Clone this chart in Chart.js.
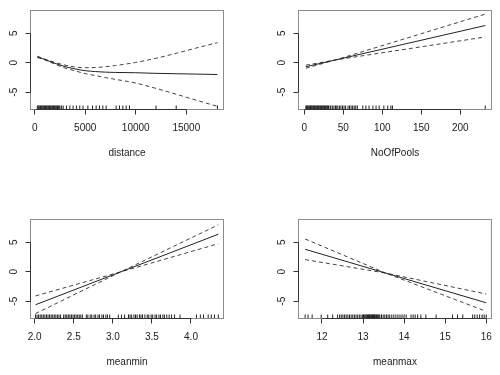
<!DOCTYPE html>
<html>
<head>
<meta charset="utf-8">
<script src="https://cdn.jsdelivr.net/npm/chart.js@4/dist/chart.umd.min.js"></script>
<style>
  body { margin: 0; background: #fff; }
  #wrap { position: relative; width: 500px; height: 375px; }
  #wrap canvas { position: absolute; }
</style>
</head>
<body>
<div id="wrap">
  <canvas id="cDistance" width="250" height="188" style="left:0;top:0"></canvas>
  <canvas id="cPools" width="250" height="188" style="left:250px;top:0"></canvas>
  <canvas id="cMeanmin" width="250" height="188" style="left:0;top:187px"></canvas>
  <canvas id="cMeanmax" width="250" height="188" style="left:250px;top:187px"></canvas>
</div>
<script>
// shared y range of the smooth terms
var yMin = -7.93;
var yMax = 8.85;
var yTicks = [-5, 0, 5];

// s(distance)
var distTicks = [0, 5000, 10000, 15000];
var distX = [260, 1000, 2000, 3000, 4000, 5000, 6000, 7000, 8000, 10000, 12000, 14000, 16000, 18080];
var distFit = [1.0, 0.55, -0.1, -0.65, -1.05, -1.35, -1.5, -1.6, -1.65, -1.7, -1.8, -1.87, -1.93, -2.0];
var distUpper = [1.1, 0.62, 0.05, -0.4, -0.72, -0.85, -0.82, -0.68, -0.48, 0.05, 0.75, 1.6, 2.5, 3.4];
var distLower = [0.9, 0.48, -0.25, -0.9, -1.38, -1.85, -2.18, -2.52, -2.82, -3.45, -4.35, -5.34, -6.36, -7.4];
var distRug = [260, 340, 420, 500, 580, 660, 740, 820, 900, 980, 1060, 1140, 1220, 1300, 1380, 1460, 1540, 1620,
  1700, 1780, 1860, 1940, 2020, 2100, 2180, 2260, 2340, 2420, 2500, 2660, 2820,
  3150, 3480, 3800, 4130, 4460, 4780, 5260, 5720, 6080, 6410, 6740, 7070, 8060, 8390, 8720, 9050, 9380,
  12000, 14000, 18080];

// s(NoOfPools)
var poolTicks = [0, 50, 100, 150, 200];
var poolX = [2, 40, 232];
var poolFit = [-0.68, 0.47, 6.3];
var poolUpper = [-0.42, 0.47, 8.24];
var poolLower = [-0.94, 0.47, 4.36];
var poolRug = [2, 3, 4, 5, 6, 7, 8, 9, 10, 11, 12, 13, 14, 15, 16, 17, 18, 19, 20, 21, 22, 23, 24, 25, 26, 27, 28,
  29, 30, 31, 33, 34, 36, 38, 40, 41, 43, 45, 47, 49, 51, 53, 56, 58, 60, 62, 64, 66, 68, 75, 79, 83, 88, 92, 96,
  102, 107, 111, 113, 232];

// s(meanmin)
var minTicks = [2.0, 2.5, 3.0, 3.5, 4.0];
var minX = [2.01, 3.1, 4.35];
var minFit = [-5.6, -0.03, 6.35];
var minUpper = [-4.1, -0.03, 7.95];
var minLower = [-7.1, -0.03, 4.75];
var minRug = [2.01, 2.03, 2.05, 2.07, 2.09, 2.11, 2.13, 2.15, 2.17, 2.19, 2.21, 2.23, 2.25, 2.27, 2.29, 2.31, 2.33,
  2.37, 2.39, 2.41, 2.43, 2.45, 2.47, 2.49, 2.51, 2.53, 2.55, 2.57, 2.59, 2.61,
  2.66, 2.68, 2.71, 2.73, 2.76, 2.78, 2.81, 2.83, 2.86, 2.88, 2.91, 2.93, 2.96,
  3.07, 3.11, 3.15, 3.20, 3.22, 3.24, 3.27, 3.29, 3.31, 3.34, 3.36, 3.38, 3.41,
  3.44, 3.46, 3.49, 3.51, 3.54, 3.56, 3.59, 3.61, 3.64, 3.66, 3.69, 3.72, 3.75, 3.79,
  3.86, 4.07, 4.12, 4.16, 4.22, 4.26, 4.30, 4.35];

// s(meanmax)
var maxTicks = [12, 13, 14, 15, 16];
var maxX = [11.59, 13.55, 16.0];
var maxFit = [3.8, -0.23, -5.27];
var maxUpper = [5.55, -0.23, -3.78];
var maxLower = [2.05, -0.23, -6.72];
var maxRug = [11.59, 11.66, 11.76, 11.98, 12.14, 12.26, 12.38, 12.43, 12.47, 12.51, 12.55, 12.59, 12.63, 12.67,
  12.71, 12.75, 12.79, 12.83, 12.87, 12.91, 12.95, 12.99, 13.01, 13.03, 13.05, 13.07, 13.09, 13.11, 13.13, 13.14,
  13.16, 13.17, 13.19, 13.2, 13.22, 13.23, 13.25, 13.26, 13.28, 13.29, 13.31, 13.33, 13.35, 13.37, 13.39, 13.41,
  13.45, 13.49, 13.53, 13.57, 13.61, 13.65, 13.7, 13.75, 13.8, 13.85, 13.9, 13.95,
  14.0, 14.05, 14.17, 14.22, 14.27, 14.33, 14.41, 14.53, 14.78, 15.18, 15.3, 15.43, 15.67, 15.72, 15.78, 15.84,
  15.9, 15.95, 16.0];

var fontFamily = '"Liberation Sans", Arial, Helvetica, sans-serif';
var ink = '#222';

function pts(xs, ys) {
  return xs.map(function (x, i) { return {x: x, y: ys[i]}; });
}

function fixedTicks(values) {
  return function (scale) {
    scale.ticks = values.map(function (v) { return {value: v}; });
  };
}

// box round the plot region, R-style axis lines and rotated y labels
var gamBox = {
  id: 'gamBox',
  afterDraw: function (chart) {
    var ctx = chart.ctx;
    var a = chart.chartArea;
    var xs = chart.scales.x;
    var ys = chart.scales.y;
    ctx.save();
    ctx.lineWidth = 1;
    ctx.strokeStyle = '#8c8c8c';
    ctx.strokeRect(a.left, a.top, a.right - a.left, a.bottom - a.top);

    ctx.strokeStyle = '#333';
    ctx.beginPath();
    ctx.moveTo(Math.round(xs.getPixelForValue(xs.ticks[0].value)) + 0.5, a.bottom);
    ctx.lineTo(Math.round(xs.getPixelForValue(xs.ticks[xs.ticks.length - 1].value)) + 0.5, a.bottom);
    ctx.moveTo(a.left, Math.round(ys.getPixelForValue(ys.ticks[0].value)) + 0.5);
    ctx.lineTo(a.left, Math.round(ys.getPixelForValue(ys.ticks[ys.ticks.length - 1].value)) + 0.5);
    ctx.stroke();

    ctx.fillStyle = ink;
    ctx.font = '10px ' + fontFamily;
    ctx.textAlign = 'center';
    ctx.textBaseline = 'middle';
    ys.ticks.forEach(function (t) {
      ctx.save();
      ctx.translate(a.left - 16.5, ys.getPixelForValue(t.value));
      ctx.rotate(-Math.PI / 2);
      ctx.fillText(String(t.value), 0, 0);
      ctx.restore();
    });
    ctx.restore();
  }
};

function makePanel(id, p) {
  var lineBase = {showLine: true, pointRadius: 0, borderWidth: 1, fill: false,
    tension: p.smooth ? 0.4 : 0, cubicInterpolationMode: p.smooth ? 'monotone' : 'default'};
  return new Chart(document.getElementById(id), {
    type: 'scatter',
    data: {
      datasets: [
        Object.assign({data: pts(p.x, p.fit), borderColor: '#222'}, lineBase),
        Object.assign({data: pts(p.x, p.upper), borderColor: '#444', borderDash: [4, 3]}, lineBase),
        Object.assign({data: pts(p.x, p.lower), borderColor: '#444', borderDash: [4, 3]}, lineBase),
        {
          data: p.rug.map(function (v) { return {x: v, y: yMin}; }),
          pointStyle: 'line',
          rotation: 90,
          pointRadius: 4,
          pointHoverRadius: 4,
          pointBorderWidth: 1,
          pointBorderColor: '#222',
          showLine: false
        }
      ]
    },
    options: {
      responsive: false,
      animation: false,
      events: [],
      layout: {padding: p.pad},
      plugins: {legend: {display: false}, tooltip: {enabled: false}},
      scales: {
        x: {
          type: 'linear',
          min: p.xMin,
          max: p.xMax,
          afterBuildTicks: fixedTicks(p.ticks),
          afterFit: function (s) { s.height = 50; },
          border: {display: false},
          grid: {drawOnChartArea: false, drawTicks: true, tickLength: 5, color: '#333'},
          ticks: {
            padding: 8,
            color: ink,
            font: {family: fontFamily, size: 10},
            maxRotation: 0,
            autoSkip: false,
            callback: p.fmt
          },
          title: {display: true, text: p.title, color: ink, padding: 0,
            font: {family: fontFamily, size: 10}}
        },
        y: {
          type: 'linear',
          min: yMin,
          max: yMax,
          afterBuildTicks: fixedTicks(yTicks),
          afterFit: function (s) { s.width = 20; },
          border: {display: false},
          grid: {drawOnChartArea: false, drawTicks: true, tickLength: 5, color: '#333'},
          ticks: {display: false}
        }
      }
    },
    plugins: [gamBox]
  });
}

function plain(v) { return String(v); }
function oneDec(v) { return v.toFixed(1); }

makePanel('cDistance', {x: distX, fit: distFit, upper: distUpper, lower: distLower, rug: distRug,
  ticks: distTicks, xMin: -416, xMax: 18680, fmt: plain, title: 'distance', smooth: true,
  pad: {left: 10.5, right: 26.5, top: 10.5, bottom: 28.5}});

makePanel('cPools', {x: poolX, fit: poolFit, upper: poolUpper, lower: poolLower, rug: poolRug,
  ticks: poolTicks, xMin: -7.4, xMax: 240, fmt: plain, title: 'NoOfPools',
  pad: {left: 28.5, right: 8.5, top: 10.5, bottom: 28.5}});

makePanel('cMeanmin', {x: minX, fit: minFit, upper: minUpper, lower: minLower, rug: minRug,
  ticks: minTicks, xMin: 1.946, xMax: 4.416, fmt: oneDec, title: 'meanmin',
  pad: {left: 10.5, right: 26.5, top: 32.5, bottom: 6.5}});

makePanel('cMeanmax', {x: maxX, fit: maxFit, upper: maxUpper, lower: maxLower, rug: maxRug,
  ticks: maxTicks, xMin: 11.428, xMax: 16.127, fmt: plain, title: 'meanmax',
  pad: {left: 28.5, right: 8.5, top: 32.5, bottom: 6.5}});
</script>
</body>
</html>
